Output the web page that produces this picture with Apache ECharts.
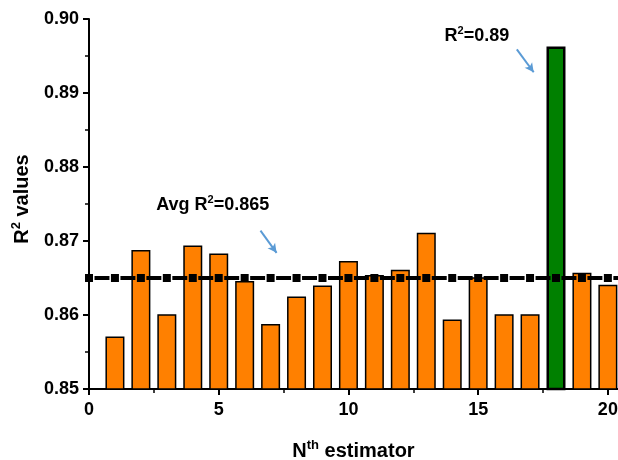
<!DOCTYPE html>
<html>
<head>
<meta charset="utf-8">
<script src="https://cdn.jsdelivr.net/npm/echarts@6/dist/echarts.min.js"></script>
<style>
  html, body { margin: 0; padding: 0; background: #ffffff; }
  #chart { width: 618px; height: 460px; }
</style>
</head>
<body>
<div id="chart"></div>
<script>
// R² score of each estimator in the ensemble
const estimators = [1, 2, 3, 4, 5, 6, 7, 8, 9, 10, 11, 12, 13, 14, 15, 16, 17, 18, 19, 20];
const r2Values = [0.8571, 0.8688, 0.8601, 0.8694, 0.8683, 0.8646, 0.8588, 0.8625, 0.8640, 0.8673,
                  0.8654, 0.8661, 0.8711, 0.8594, 0.8651, 0.8601, 0.8601, 0.8963, 0.8657, 0.8641];
// average R² reference line, marked at every estimator index
const avgR2 = 0.865;
const avgMarkX = [0, 1, 2, 3, 4, 5, 6, 7, 8, 9, 10, 11, 12, 13, 14, 15, 16, 17, 18, 19, 20, 21];
// axis ticks
const xTickValues = [0, 5, 10, 15, 20];
const yTickValues = [0.85, 0.86, 0.87, 0.88, 0.89, 0.90];

const FONT = '"Liberation Sans", Arial, sans-serif';
const ORANGE = '#ff8000';
const GREEN = '#008000';
const ARROW = '#5b9bd5';

const bestIndex = r2Values.indexOf(Math.max(...r2Values));
const bestLabel = (Math.floor(r2Values[bestIndex] * 100) / 100).toFixed(2);

// regular text with bold superscripts
const rich = {
  b: { fontFamily: FONT, fontWeight: 'bold', fontSize: 18, color: '#000', lineHeight: 21 },
  s: { fontFamily: FONT, fontWeight: 'bold', fontSize: 11, color: '#000', lineHeight: 12, verticalAlign: 'top' }
};
const richName = {
  b: { fontFamily: FONT, fontWeight: 'bold', fontSize: 20, color: '#000', lineHeight: 24 },
  s: { fontFamily: FONT, fontWeight: 'bold', fontSize: 13, color: '#000', lineHeight: 14, verticalAlign: 'top' }
};

const barData = estimators.map((n, i) => {
  const item = { value: [n, r2Values[i]] };
  if (i === bestIndex) {
    item.itemStyle = { color: GREEN, borderColor: '#000', borderWidth: 2.5 };
  }
  return item;
});

const chart = echarts.init(document.getElementById('chart'), null, { renderer: 'canvas' });

const xMax = 20.39;
const gridLeft = 89;
const unitPx = (618 - gridLeft) / xMax;
const dashGap = 11;

chart.setOption({
  animation: false,
  backgroundColor: '#ffffff',
  grid: { left: gridLeft, right: 0, top: 19, bottom: 71, outerBoundsMode: 'none' },
  xAxis: {
    type: 'value',
    min: 0,
    max: xMax,
    interval: 5,
    name: '{b|N}{s|th}{b| estimator}',
    nameLocation: 'middle',
    nameGap: 50,
    nameTextStyle: { rich: richName },
    axisLine: { show: true, onZero: false, lineStyle: { color: '#000', width: 2 } },
    axisTick: { show: true, length: 6, customValues: xTickValues, lineStyle: { color: '#000', width: 2 } },
    minorTick: { show: true, splitNumber: 2, length: 4, lineStyle: { color: '#000', width: 1.5 } },
    axisLabel: {
      customValues: xTickValues,
      margin: 12,
      fontFamily: FONT, fontWeight: 'bold', fontSize: 18, color: '#000'
    },
    splitLine: { show: false },
    minorSplitLine: { show: false }
  },
  yAxis: {
    type: 'value',
    min: 0.85,
    max: 0.90,
    interval: 0.01,
    name: '{b|R}{s|2}{b| values}',
    nameLocation: 'middle',
    nameRotate: 90,
    nameGap: 55,
    nameTextStyle: { rich: richName, padding: [0, 0, 0, 10] },
    axisLine: { show: true, onZero: false, lineStyle: { color: '#000', width: 2 } },
    axisTick: { show: true, length: 6, customValues: yTickValues, lineStyle: { color: '#000', width: 2 } },
    minorTick: { show: true, splitNumber: 2, length: 4, lineStyle: { color: '#000', width: 1.5 } },
    axisLabel: {
      customValues: yTickValues,
      margin: 10,
      formatter: v => v.toFixed(2),
      fontFamily: FONT, fontWeight: 'bold', fontSize: 18, color: '#000'
    },
    splitLine: { show: false },
    minorSplitLine: { show: false }
  },
  series: [
    {
      type: 'bar',
      data: barData,
      barWidth: 19,
      clip: true,
      itemStyle: { color: ORANGE, borderColor: '#000', borderWidth: 1.5 },
      emphasis: { disabled: true },
      markLine: {
        silent: true,
        animation: false,
        symbol: ['none', 'arrow'],
        symbolSize: [7, 9],
        label: { show: false },
        lineStyle: { color: ARROW, width: 2, type: 'solid' },
        data: [
          [{ coord: [6.61, 0.8714] }, { coord: [7.23, 0.8684] }],
          [{ coord: [16.49, 0.8959] }, { coord: [17.14, 0.8928] }]
        ]
      },
      markPoint: {
        silent: true,
        symbol: 'circle',
        symbolSize: 0,
        label: { show: true, position: 'inside', rich: rich },
        data: [
          { coord: [4.77, 0.8749], label: { formatter: '{b|Avg R}{s|2}{b|=' + avgR2.toFixed(3) + '}' } },
          { coord: [14.95, 0.8977], label: { formatter: '{b|R}{s|2}{b|=' + bestLabel + '}' } }
        ]
      }
    },
    {
      type: 'line',
      data: avgMarkX.map(x => [x, avgR2]),
      clip: true,
      symbol: 'rect',
      symbolSize: 8,
      itemStyle: { color: '#000' },
      // dashes run between the square markers, with the gaps centred on them
      lineStyle: {
        color: '#000', width: 4,
        type: [unitPx - dashGap, dashGap],
        dashOffset: unitPx - dashGap / 2
      },
      emphasis: { disabled: true },
      z: 3
    }
  ]
});
</script>
</body>
</html>
